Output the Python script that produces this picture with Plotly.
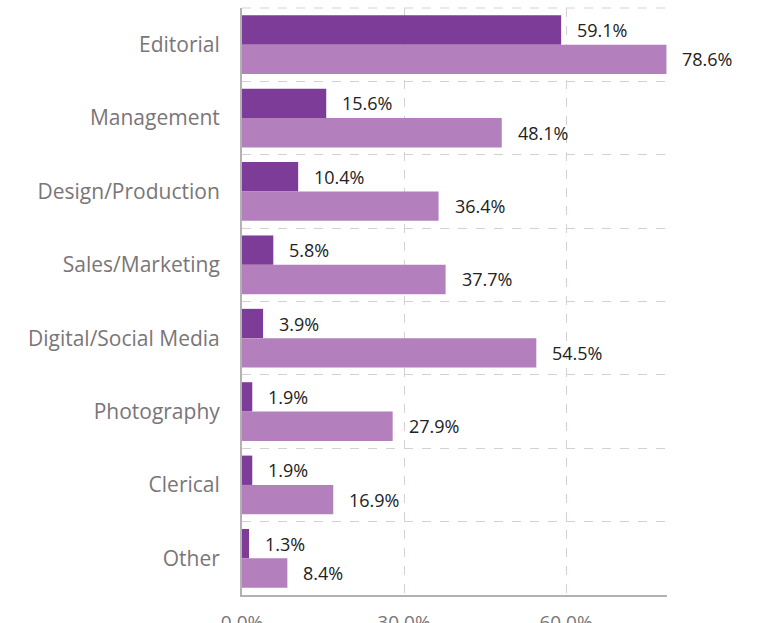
import plotly.graph_objects as go

categories = ["Editorial", "Management", "Design/Production", "Sales/Marketing",
              "Digital/Social Media", "Photography", "Clerical", "Other"]
series_a = [59.1, 15.6, 10.4, 5.8, 3.9, 1.9, 1.9, 1.3]
series_b = [78.6, 48.1, 36.4, 37.7, 54.5, 27.9, 16.9, 8.4]
x_ticks = [0, 30, 60]

dark = "#7D3C98"
light = "#B380BD"

W, H = 757, 623
margin = dict(l=242, r=90, t=8, b=28)
plot_h = H - margin["t"] - margin["b"]
band_px = plot_h / len(categories)
bargap = 0.2
bar_px = band_px * (1 - bargap) / 2

font_family = "Open Sans, Roboto, sans-serif"

fig = go.Figure()
fig.add_trace(go.Bar(y=categories, x=series_a, orientation="h",
                     marker=dict(color=dark, line=dict(width=0)), name="A"))
fig.add_trace(go.Bar(y=categories, x=series_b, orientation="h",
                     marker=dict(color=light, line=dict(width=0)), name="B"))

label_font = dict(family=font_family, size=18, color="#222222")
for cat, va, vb in zip(categories, series_a, series_b):
    for v, shift in ((va, bar_px / 2), (vb, -bar_px / 2)):
        fig.add_annotation(x=v, y=cat, text=f"{v:.1f}%", showarrow=False,
                           xanchor="left", yanchor="middle", xshift=14,
                           yshift=shift, font=label_font)

grid_color = "#D9CFD2"
# dashed boundary along the top edge of the plot area
fig.add_shape(type="line", xref="paper", yref="paper", x0=0, x1=1, y0=1, y1=1,
              line=dict(color=grid_color, width=1, dash="dash"))

fig.update_layout(
    width=W, height=H, margin=margin,
    barmode="group", bargap=bargap, bargroupgap=0,
    plot_bgcolor="white", paper_bgcolor="white",
    showlegend=False,
    xaxis=dict(range=[0, 78.7], tickvals=x_ticks,
               ticktext=[f"{t:.1f}%" for t in x_ticks], automargin=False,
               showgrid=True, gridcolor=grid_color, griddash="dash", gridwidth=1,
               zeroline=False, showline=True, linecolor="#B5B0B3", linewidth=2,
               ticks="outside", ticklen=0, ticklabelstandoff=9,
               tickfont=dict(family=font_family, size=19, color="#7A7578")),
    yaxis=dict(autorange="reversed", tickson="boundaries", automargin=False,
               showgrid=True, gridcolor=grid_color, griddash="dash", gridwidth=1,
               showline=True, linecolor="#B5B0B3", linewidth=2,
               ticks="outside", ticklen=0, ticklabelstandoff=16,
               tickfont=dict(family=font_family, size=21, color="#7A7578")),
)

fig.write_html("out.html")
